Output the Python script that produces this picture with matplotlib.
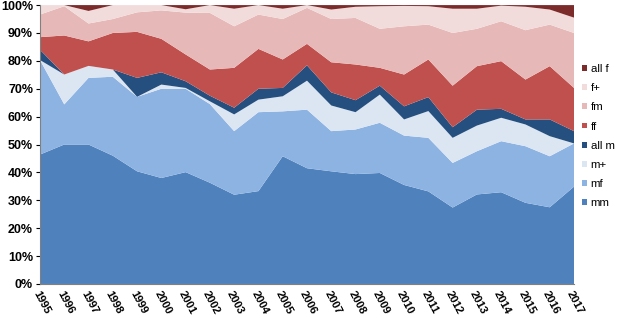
import numpy as np
import matplotlib
matplotlib.use("Agg")
import matplotlib.pyplot as plt

plt.rcParams["font.family"] = ["Liberation Sans", "DejaVu Sans"]

# Годы и доли (в %) по категориям, снизу вверх
years = list(range(1995, 2018))
mm = [46.4, 50.0, 50.0, 46.0, 40.4, 38.0, 40.1, 36.3, 32.0, 33.3, 45.8, 41.5,
      40.4, 39.4, 39.8, 35.5, 33.2, 27.4, 32.1, 32.9, 29.1, 27.5, 34.9]
mf = [33.9, 14.4, 23.9, 28.3, 26.7, 32.0, 29.9, 28.2, 22.8, 28.3, 16.1, 21.0,
      14.4, 16.0, 18.0, 17.7, 19.2, 16.0, 15.5, 18.3, 20.3, 18.3, 15.5]
m_plus = [0.0, 10.7, 4.3, 2.6, 0.0, 1.5, 0.3, 1.0, 6.0, 4.5, 5.4, 10.4,
          9.2, 6.2, 10.1, 5.8, 9.6, 9.0, 9.2, 8.4, 7.8, 7.2, 0.0]
all_m = [3.7, 0.0, 0.0, 0.0, 6.8, 4.4, 2.4, 2.0, 2.4, 3.9, 3.0, 5.5,
         4.7, 4.3, 3.2, 4.7, 5.0, 3.8, 5.7, 3.2, 1.8, 6.0, 4.4]
ff = [4.5, 14.0, 8.8, 13.1, 16.5, 12.0, 9.6, 9.4, 14.3, 14.3, 10.2, 7.7,
      10.8, 12.8, 6.4, 11.4, 13.5, 14.9, 15.6, 17.1, 14.3, 19.1, 15.5]
fm = [8.1, 10.5, 6.4, 5.0, 7.0, 10.2, 15.0, 20.3, 14.9, 12.3, 14.5, 12.9,
      15.5, 16.7, 14.0, 17.3, 12.5, 18.9, 13.4, 14.3, 17.7, 14.9, 19.7]
f_plus = [3.4, 0.4, 4.5, 5.0, 2.6, 1.9, 1.2, 2.8, 6.3, 3.4, 3.7, 1.0,
          3.4, 4.0, 8.1, 7.3, 6.6, 8.7, 7.2, 5.6, 8.4, 5.4, 5.5]
all_f = [0.0, 0.0, 2.1, 0.0, 0.0, 0.0, 1.5, 0.0, 1.3, 0.0, 1.3, 0.0,
         1.6, 0.6, 0.4, 0.3, 0.4, 1.3, 1.3, 0.2, 0.6, 1.6, 4.5]

labels = ["mm", "mf", "m+", "all m", "ff", "fm", "f+", "all f"]
colors = ["#4F81BD", "#8DB3E2", "#DCE6F2", "#254F7E",
          "#C0504D", "#E6B9B8", "#F2DCDB", "#7B2B2A"]

data = np.array([mm, mf, m_plus, all_m, ff, fm, f_plus, all_f])
data = data / data.sum(axis=0)  # 100% stacked

fig = plt.figure(figsize=(6.17, 3.18), dpi=100)
ax = fig.add_axes([0.0648, 0.107, 0.8655, 0.877])

ax.stackplot(years, data, colors=colors, labels=labels, linewidth=0)

ax.set_xlim(years[0], years[-1])
ax.set_ylim(0, 1)
yt = np.arange(0, 1.01, 0.1)
ax.set_yticks(yt)
ax.set_yticklabels([f"{int(round(v * 100))}%" for v in yt],
                   fontsize=9, fontweight="bold")
ax.set_xticks(years)
ax.set_xticklabels([str(y) for y in years], rotation=-62, ha="left", va="top",
                   rotation_mode="anchor", fontsize=8, fontweight="bold")
ax.tick_params(axis="y", length=3, pad=2)
ax.tick_params(axis="x", length=0, pad=4)

for s in ["top", "right"]:
    ax.spines[s].set_visible(False)
ax.spines["left"].set_color("#808080")
ax.spines["bottom"].set_color("#808080")

handles, labs = ax.get_legend_handles_labels()
fig.legend(handles[::-1], labs[::-1], loc="center left",
           bbox_to_anchor=(0.944, 0.572), frameon=False, fontsize=8.2,
           handlelength=0.42, handleheight=0.42, handletextpad=0.3,
           labelspacing=0.8, borderaxespad=0, borderpad=0)

fig.savefig("out.png", dpi=100)
